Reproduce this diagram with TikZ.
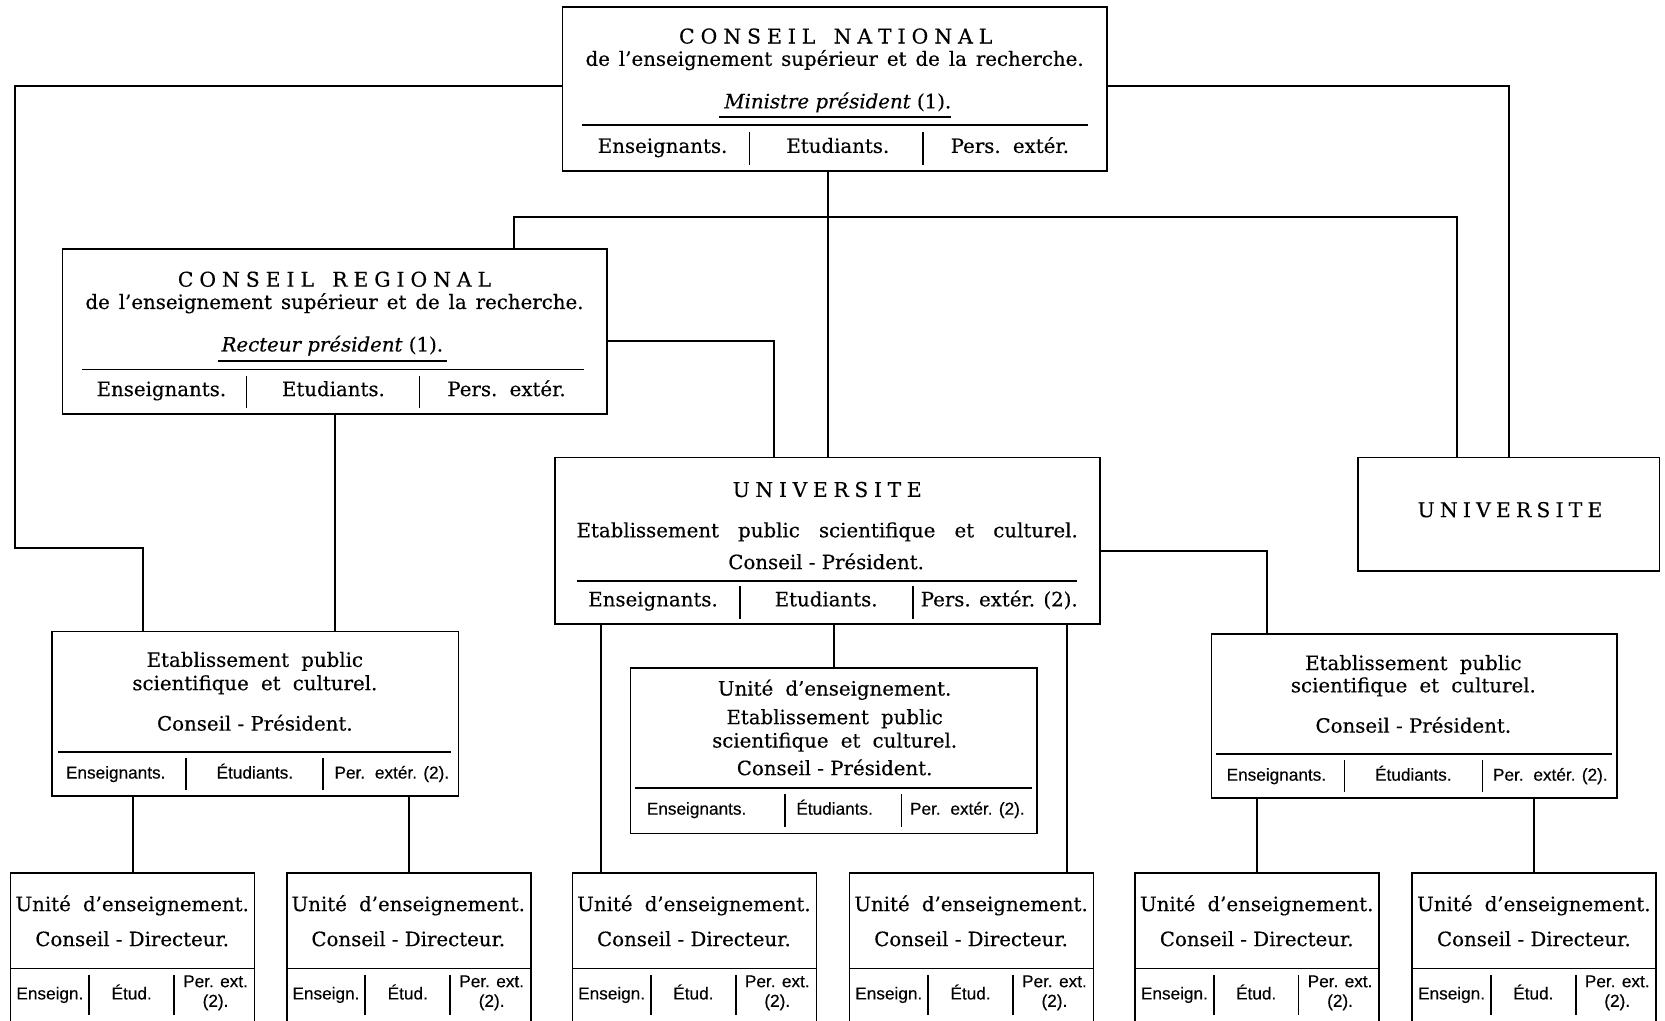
\documentclass[tikz,border=0pt]{standalone}
\usepackage{fontspec}
\setmainfont{DejaVu Serif}[FakeBold=0.35]
\newfontfamily\labfont{Liberation Sans}[FakeBold=0.3]
\tikzset{
  frame/.style={draw,line width=0.8pt,inner sep=0pt,anchor=north west},
  shell/.style={inner sep=0pt,anchor=north west},
  boxline/.style={line width=0.8pt},
  link/.style={line width=0.95pt},
  rulel/.style={line width=0.75pt},
  uline/.style={line width=1.2pt},
  tx/.style={inner sep=0pt,text height=7pt,text depth=2pt,font=\fontsize{9.3}{11}\selectfont},
  ttl/.style={inner sep=0pt,text height=7pt,text depth=0pt,font=\fontsize{9.6}{11}\selectfont},
  lb/.style={inner sep=0pt,text height=6pt,text depth=1.8pt,font=\labfont\fontsize{8.1}{9.2}\selectfont},
  lbb/.style={inner sep=0pt,font=\labfont\fontsize{8.1}{9.2}\selectfont,align=center},
}
\newcommand\uebox[2]{%
  \node[shell,minimum width=114.5pt,minimum height=85pt] (#1) at (#2,822) {};
  \draw[boxline] (#1.south west) |- (#1.north east) -- (#1.south east);
  \node[tx] (#1a) at ({#2+114.5},853) {Unité\hspace{0.3em} d’enseignement.};
  \node[tx] (#1b) at ({#2+114.5},886) {Conseil - Directeur.};
  \draw[rulel] (#2,912) -- ({#2+229},912);
  \draw[rulel] ({#2+74},918) -- ({#2+74},956);
  \draw[rulel] ({#2+154},918) -- ({#2+154},956);
  \node[lb] (#1c) at ({#2+37},937) {Enseign.};
  \node[lb] (#1d) at ({#2+114},937) {Étud.};
  \node[lbb] (#1e) at ({#2+193},935) {Per. ext.\\(2).};
}
\begin{document}
\begin{tikzpicture}[x=0.5pt,y=-0.5pt]
\useasboundingbox (0,0) rectangle (1568,961);
\fill[white] (0,0) rectangle (1568,961);
\clip (0,0) rectangle (1568,961);

% ---------- Conseil national
\node[frame,minimum width=256.5pt,minimum height=77pt] (cn) at (529,6) {};
\node[ttl] (cnT) at (787,34) {\makebox[147.5pt][s]{C O N S E I L\hspace{0.6em} N A T I O N A L}};
\node[tx] (cnS) at (786,57) {\makebox[234.5pt][s]{de l’enseignement supérieur et de la recherche.}};
\node[tx] (cnM) at (789,97) {\textit{Ministre président} (1).};
\draw[uline] (677,110) -- (896,110);
\draw[rulel] (548,118) -- (1025,118);
\draw[rulel] (706,124) -- (706,155);
\draw[rulel] (869,124) -- (869,155);
\node[tx] (cn1) at (624,139) {Enseignants.};
\node[tx] (cn2) at (789,139) {Etudiants.};
\node[tx] (cn3) at (951,139) {Pers.\hspace{0.2em} extér.};

% ---------- Conseil regional
\node[frame,minimum width=256.5pt,minimum height=77.5pt] (cr) at (58,234) {};
\node[ttl] (crT) at (315,263) {\makebox[147.5pt][s]{C O N S E I L\hspace{0.6em} R E G I O N A L}};
\node[tx] (crS) at (315,286) {\makebox[234.5pt][s]{de l’enseignement supérieur et de la recherche.}};
\node[tx] (crM) at (313,326) {\textit{Recteur président} (1).};
\draw[uline] (205,340) -- (421,340);
\draw[rulel] (77,348) -- (550,348);
\draw[rulel] (232,354) -- (232,384);
\draw[rulel] (395,354) -- (395,384);
\node[tx] (cr1) at (152,368) {Enseignants.};
\node[tx] (cr2) at (314,368) {Etudiants.};
\node[tx] (cr3) at (477,368) {Pers.\hspace{0.2em} extér.};

% ---------- Universite (centre)
\node[frame,minimum width=256.5pt,minimum height=78.5pt] (un) at (522,430) {};
\node[ttl] (unT) at (779,461) {\makebox[89pt][s]{U N I V E R S I T E}};
\node[tx] (unS) at (779,501) {\makebox[236pt][s]{Etablissement public scientifique et culturel.}};
\node[tx] (unC) at (778,531) {Conseil - Président.};
\draw[rulel] (543,547) -- (1014,547);
\draw[rulel] (697,552) -- (697,583);
\draw[rulel] (860,552) -- (860,583);
\node[tx] (un1) at (615,566) {Enseignants.};
\node[tx] (un2) at (778,566) {Etudiants.};
\node[tx] (un3) at (941,566) {Pers. extér. (2).};

% ---------- Universite (droite)
\node[frame,minimum width=142pt,minimum height=53.5pt] (ur) at (1278,430) {};
\node[ttl] (urT) at (1422,480) {\makebox[87pt][s]{U N I V E R S I T E}};

% ---------- EPSC gauche
\node[frame,minimum width=191.5pt,minimum height=77.5pt] (epl) at (48,594) {};
\node[tx] (epl1) at (240,623) {Etablissement\hspace{0.3em} public};
\node[tx] (epl2) at (240,645) {scientifique\hspace{0.3em} et\hspace{0.3em} culturel.};
\node[tx] (epl3) at (240,683) {Conseil - Président.};
\draw[rulel] (55,708) -- (425,708);
\draw[rulel] (175,714) -- (175,744);
\draw[rulel] (304,714) -- (304,744);
\node[lb] (epl4) at (109,729) {Enseignants.};
\node[lb] (epl5) at (240,729) {Étudiants.};
\node[lb] (epl6) at (369,729) {Per.\hspace{0.2em} extér. (2).};

% ---------- Unite d'enseignement EPSC (milieu)
\node[frame,minimum width=191.5pt,minimum height=78pt] (uem) at (593,628) {};
\node[tx] (uem1) at (786,650) {Unité\hspace{0.3em} d’enseignement.};
\node[tx] (uem2) at (786,677) {Etablissement\hspace{0.3em} public};
\node[tx] (uem3) at (786,699) {scientifique\hspace{0.3em} et\hspace{0.3em} culturel.};
\node[tx] (uem4) at (786,725) {Conseil - Président.};
\draw[rulel] (598,742) -- (972,742);
\draw[rulel] (739,748) -- (739,779);
\draw[rulel] (849,748) -- (849,779);
\node[lb] (uem5) at (656,763) {Enseignants.};
\node[lb] (uem6) at (786,763) {Étudiants.};
\node[lb] (uem7) at (911,763) {Per.\hspace{0.2em} extér. (2).};

% ---------- EPSC droite
\node[frame,minimum width=191pt,minimum height=77.5pt] (epr) at (1140,596) {};
\node[tx] (epr1) at (1331,626) {Etablissement\hspace{0.3em} public};
\node[tx] (epr2) at (1331,647) {scientifique\hspace{0.3em} et\hspace{0.3em} culturel.};
\node[tx] (epr3) at (1331,685) {Conseil - Président.};
\draw[rulel] (1145,710) -- (1518,710);
\draw[rulel] (1266,716) -- (1266,746);
\draw[rulel] (1396,716) -- (1396,746);
\node[lb] (epr4) at (1202,731) {Enseignants.};
\node[lb] (epr5) at (1331,731) {Étudiants.};
\node[lb] (epr6) at (1460,731) {Per.\hspace{0.2em} extér. (2).};

% ---------- Unites d'enseignement (bas)
\uebox{ua}{10}
\uebox{ub}{270}
\uebox{uc}{539}
\uebox{ud}{800}
\uebox{ue}{1069}
\uebox{uf}{1330}

% ---------- connecteurs
\coordinate (kL) at (14,516);
\coordinate (kLx) at (135,0);
\coordinate (hL) at (484,204);
\coordinate (hR) at (1372,204);
\coordinate (kC) at (729,0);
\coordinate (kR) at (1193,0);
\coordinate (xa) at (566,0);
\coordinate (xb) at (1005,0);

\draw[link] ([yshift=1.5pt]cn.west) -| (kL) -| (kLx |- epl.north);
\draw[link] ([yshift=1.5pt]cn.east) -| (ur.north);
\draw[link] (cn.south -| un.north) -- (un.north);
\draw[link] (hL |- cr.north) -- (hL) -- (hR) -- (hR |- ur.north);
\draw[link] ([yshift=-4.25pt]cr.east) -| (kC |- un.north);
\draw[link] (cr.south) -- (cr.south |- epl.north);
\draw[link] ([yshift=-4.75pt]un.east) -| (kR |- epr.north);
\draw[link] (xa |- un.south) -- (xa |- uc.north);
\draw[link] (un.south -| uem.north) -- (uem.north);
\draw[link] (xb |- un.south) -- (xb |- ud.north);
\draw[link] (epl.south -| ua.north) -- (ua.north);
\draw[link] (epl.south -| ub.north) -- (ub.north);
\draw[link] (epr.south -| ue.north) -- (ue.north);
\draw[link] (epr.south -| uf.north) -- (uf.north);
\end{tikzpicture}
\end{document}
